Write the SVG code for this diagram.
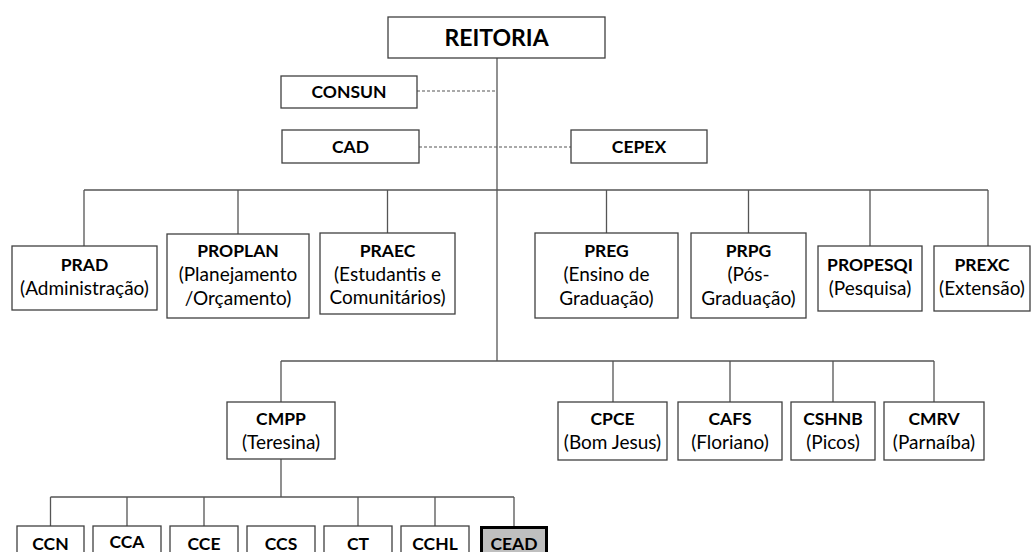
<svg xmlns="http://www.w3.org/2000/svg" width="1031" height="552" viewBox="0 0 1031 552">
<style>
.bg{fill:#fff}
.box{fill:#fff;stroke:#404040;stroke-width:1.3}
.hl{fill:#bfbfbf;stroke:#000;stroke-width:3}
.c{fill:none;stroke:#555;stroke-width:1.3}
.d{fill:none;stroke:#555;stroke-width:1.1;stroke-dasharray:3 2}
text{font-family:Lato,"Liberation Sans",sans-serif;text-anchor:middle;fill:#000}
.b{font-weight:700;font-size:17.5px}
.r{font-weight:400;font-size:19px}
.t{font-weight:700;font-size:23px}
</style>
<rect class="bg" x="0" y="0" width="1031" height="552"/>
<g id="connectors">
<path class="c" d="M497 58V361"/>
<path class="c" d="M84 190H988M84 190V246M238 190V234M387.5 190V233M606.5 190V233M748.5 190V233M870 190V246M988 190V246"/>
<path class="c" d="M281 361H934M281 361V402M613 361V402M730 361V402M833 361V402M934 361V402"/>
<path class="c" d="M281 459V497M50.5 497H514M50.5 497V526M127 497V526M204 497V526M358 497V526M435 497V526M514 497V526"/>
<path class="d" d="M417 91H497M419 147H571"/>
</g>
<g id="reitoria"><rect class="box" x="388" y="17" width="217" height="41"/><text class="t" x="496.5" y="46">REITORIA</text></g>
<g id="consun"><rect class="box" x="281" y="76" width="136" height="32"/><text class="b" x="349" y="98">CONSUN</text></g>
<g id="cad"><rect class="box" x="282" y="130" width="137" height="33"/><text class="b" x="350.5" y="153">CAD</text></g>
<g id="cepex"><rect class="box" x="571" y="130" width="136" height="33"/><text class="b" x="639" y="153">CEPEX</text></g>

<g id="prad"><rect class="box" x="12" y="246" width="145" height="64"/><text class="b" x="84.5" y="271">PRAD</text><text class="r" x="84.5" y="295">(Administração)</text></g>
<g id="proplan"><rect class="box" x="167" y="234" width="142" height="84"/><text class="b" x="238" y="257">PROPLAN</text><text class="r" x="238" y="281">(Planejamento</text><text class="r" x="238" y="305">/Orçamento)</text></g>
<g id="praec"><rect class="box" x="320" y="233" width="135" height="81"/><text class="b" x="387.5" y="257">PRAEC</text><text class="r" x="387.5" y="281">(Estudantis e</text><text class="r" x="387.5" y="304">Comunitários)</text></g>
<g id="preg"><rect class="box" x="535" y="233" width="143" height="85"/><text class="b" x="606.5" y="257">PREG</text><text class="r" x="606.5" y="281">(Ensino de</text><text class="r" x="606.5" y="305">Graduação)</text></g>
<g id="prpg"><rect class="box" x="691" y="233" width="115" height="85"/><text class="b" x="748.5" y="257">PRPG</text><text class="r" x="748.5" y="281">(Pós-</text><text class="r" x="748.5" y="305">Graduação)</text></g>
<g id="propesqi"><rect class="box" x="818" y="246" width="104" height="65"/><text class="b" x="870" y="271">PROPESQI</text><text class="r" x="870" y="295">(Pesquisa)</text></g>
<g id="prexc"><rect class="box" x="934" y="246" width="96" height="65"/><text class="b" x="982" y="271">PREXC</text><text class="r" x="982" y="295">(Extensão)</text></g>

<g id="cmpp"><rect class="box" x="227" y="402" width="108" height="57"/><text class="b" x="281" y="425">CMPP</text><text class="r" x="281" y="449">(Teresina)</text></g>
<g id="cpce"><rect class="box" x="558" y="402" width="109" height="58"/><text class="b" x="612.5" y="425">CPCE</text><text class="r" x="612.5" y="449">(Bom Jesus)</text></g>
<g id="cafs"><rect class="box" x="678" y="402" width="104" height="58"/><text class="b" x="730" y="425">CAFS</text><text class="r" x="730" y="449">(Floriano)</text></g>
<g id="cshnb"><rect class="box" x="791" y="402" width="84" height="58"/><text class="b" x="833" y="425">CSHNB</text><text class="r" x="833" y="449">(Picos)</text></g>
<g id="cmrv"><rect class="box" x="884" y="402" width="100" height="58"/><text class="b" x="934" y="425">CMRV</text><text class="r" x="934" y="449">(Parnaíba)</text></g>

<g id="ccn"><rect class="box" x="17" y="526" width="67" height="40"/><text class="b" x="50.5" y="550">CCN</text></g>
<g id="cca"><rect class="box" x="93" y="526" width="68" height="40"/><text class="b" x="127" y="548">CCA</text></g>
<g id="cce"><rect class="box" x="170" y="526" width="68" height="40"/><text class="b" x="204" y="550">CCE</text></g>
<g id="ccs"><rect class="box" x="247" y="526" width="68" height="40"/><text class="b" x="281" y="550">CCS</text></g>
<g id="ct"><rect class="box" x="324" y="526" width="68" height="40"/><text class="b" x="358" y="550">CT</text></g>
<g id="cchl"><rect class="box" x="401" y="526" width="68" height="40"/><text class="b" x="435" y="550">CCHL</text></g>
<g id="cead"><rect class="hl" x="481.5" y="527.5" width="65" height="40"/><text class="b" x="514" y="550">CEAD</text></g>
</svg>
